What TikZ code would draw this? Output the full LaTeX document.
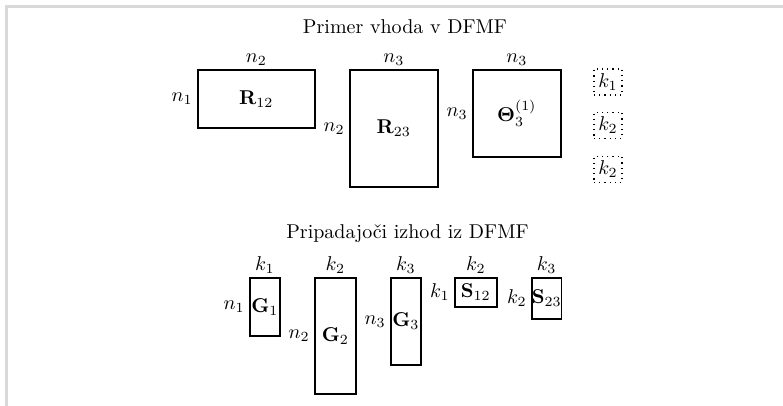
\documentclass[tikz,border=0pt]{standalone}
\usepackage{amsmath,amssymb,bm}
\begin{document}
\begin{tikzpicture}[x=0.5pt,y=-0.5pt,
  mat/.style={draw, line width=0.8pt, inner sep=0pt, anchor=north west},
  toplab/.style={anchor=south, inner sep=1.5pt},
  leftlab/.style={anchor=east, inner sep=2pt},
  dotbox/.style={draw, dotted, line width=0.6pt, inner sep=0pt, minimum width=14pt, minimum height=13pt},
  ttl/.style={anchor=base, inner sep=0pt}]
\useasboundingbox (0,0) rectangle (783,406);
\draw[line width=1.5pt, color=black!15] (6.5,406) -- (6.5,6.5) -- (783,6.5);
% input
\node[ttl] (t1) at (405,34) {Primer vhoda v DFMF};
\node[mat, minimum width=58.5pt, minimum height=29pt] (r12) at (197,69) {$\mathbf{R}_{12}$};
\node[toplab] (r12t) at (r12.north) {$n_2$};
\node[leftlab] (r12l) at (r12.west) {$n_1$};
\node[mat, minimum width=44pt, minimum height=58.5pt] (r23) at (349,69) {$\mathbf{R}_{23}$};
\node[toplab] (r23t) at (r23.north) {$n_3$};
\node[leftlab] (r23l) at (r23.west) {$n_2$};
\node[mat, minimum width=44pt, minimum height=43.5pt] (th) at (472,69) {$\boldsymbol{\Theta}_3^{(1)}$};
\node[toplab] (tht) at (th.north) {$n_3$};
\node[leftlab] (thl) at (th.west) {$n_3$};
\node[dotbox] (d1) at (608,82) {$k_1$};
\node[dotbox] (d2) at (608,125.5) {$k_2$};
\node[dotbox] (d3) at (608,169.5) {$k_2$};
% output
\node[ttl] (t2) at (407.5,239) {Pripadajoči izhod iz DFMF};
\node[mat, minimum width=15pt, minimum height=29pt] (g1) at (249,277) {$\mathbf{G}_1$};
\node[toplab] (g1t) at (g1.north) {$k_1$};
\node[leftlab] (g1l) at (g1.west) {$n_1$};
\node[mat, minimum width=20.5pt, minimum height=58pt] (g2) at (314,277) {$\mathbf{G}_2$};
\node[toplab] (g2t) at (g2.north) {$k_2$};
\node[leftlab] (g2l) at (g2.west) {$n_2$};
\node[mat, minimum width=15pt, minimum height=43.5pt] (g3) at (390,277) {$\mathbf{G}_3$};
\node[toplab] (g3t) at (g3.north) {$k_3$};
\node[leftlab] (g3l) at (g3.west) {$n_3$};
\node[mat, minimum width=21pt, minimum height=14.5pt] (s12) at (454,277) {$\mathbf{S}_{12}$};
\node[toplab] (s12t) at (s12.north) {$k_2$};
\node[leftlab] (s12l) at (s12.west) {$k_1$};
\node[mat, minimum width=14.5pt, minimum height=20.5pt] (s23) at (531,277) {$\mathbf{S}_{23}$};
\node[toplab] (s23t) at (s23.north) {$k_3$};
\node[leftlab] (s23l) at (s23.west) {$k_2$};
\end{tikzpicture}
\end{document}
